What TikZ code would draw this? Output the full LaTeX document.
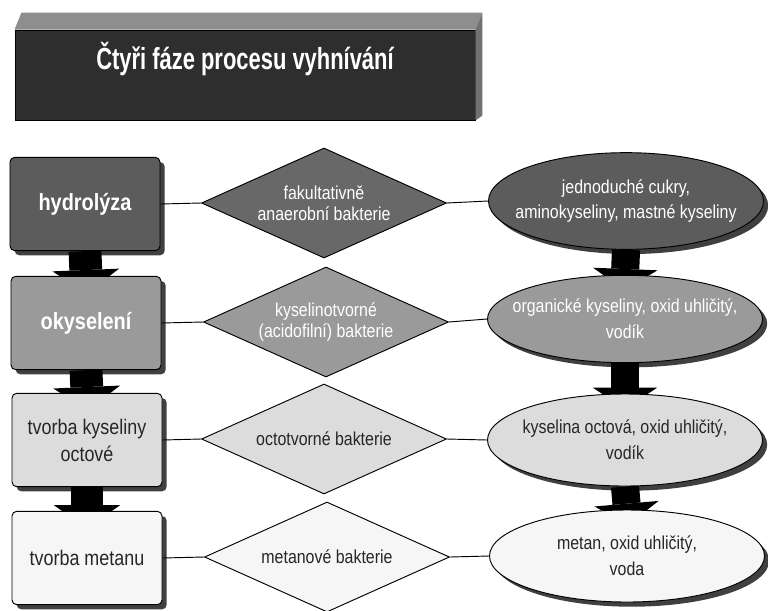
\documentclass[tikz,border=0pt]{standalone}
\usepackage{fontspec}
\setmainfont[FakeStretch=0.85]{Liberation Sans}
\newfontfamily\titlefont[FakeStretch=0.72]{Liberation Sans}
\usetikzlibrary{arrows.meta,positioning,shapes.geometric,shadows,backgrounds}
\definecolor{titlegray}{HTML}{2E2E2E}
\definecolor{bevelgray}{HTML}{8E8E8E}
\definecolor{toneA}{HTML}{5C5C5C}
\definecolor{toneAd}{HTML}{686868}
\definecolor{toneB}{HTML}{9A9A9A}
\definecolor{toneC}{HTML}{DCDCDC}
\definecolor{toneD}{HTML}{F6F6F6}

\begin{document}
\begin{tikzpicture}[
    x=0.03cm, y=-0.03cm,
    shade/.style={drop shadow={shadow xshift=4pt, shadow yshift=-4pt, fill=black, opacity=0.75}},
    phase/.style={rectangle, rounded corners=4pt, draw=black, line width=0.8pt, minimum width=4.5cm, minimum height=2.8cm, align=center, font=\fontsize{18}{23}\selectfont, shade},
    bact/.style={diamond, aspect=2.25, draw=black, line width=0.8pt, inner sep=0pt, minimum width=7.35cm, minimum height=3.3cm, align=center, font=\fontsize{16}{18}\selectfont},
    prod/.style={ellipse, draw=black, line width=0.8pt, inner xsep=-20pt, inner ysep=0pt, minimum width=8.25cm, minimum height=2.76cm, align=center, font=\fontsize{16}{22}\selectfont, shade},
    link/.style={line width=0.8pt},
    flow/.style={draw=black, line width=28pt, -{Triangle[width=57pt, length=20pt, line width=0pt]}, shorten >=-15pt},
    flowr/.style={draw=black, line width=24pt, -{Triangle[width=55pt, length=18pt, line width=0pt]}, shorten >=-13pt}
  ]
    \useasboundingbox (0,0) rectangle (768,610);
    % title block with bevel
    \node[rectangle, draw=black, line width=0.8pt, fill=titlegray, text=white, minimum width=13.8cm, minimum height=2.7cm,
          text height=22pt, text depth=32pt, font=\titlefont\fontsize{26}{30}\bfseries] (title) at (245,75) {Čtyři fáze procesu vyhnívání};
    \fill[bevelgray] (title.north west) -- ++(7,-17) -- ([shift={(7,-17)}]title.north east) -- (title.north east) -- cycle;
    \fill[bevelgray!80!black] (title.north east) -- ++(7,-17) -- ([shift={(7,-5)}]title.south east) -- (title.south east) -- cycle;

    % phases
    \node[phase, fill=toneA, text=white, font=\fontsize{20}{23}\bfseries] (ph1) at (85,204) {hydrolýza};
    \node[phase, fill=toneB, text=white, font=\fontsize{20}{23}\bfseries] (ph2) at (86,323) {okyselení};
    \node[phase, fill=toneC, text=black!85] (ph3) at (87,440) {tvorba kyseliny\\octové};
    \node[phase, fill=toneD, text=black!85] (ph4) at (87,558) {tvorba metanu};

    % bacteria
    \node[bact, fill=toneAd, text=white] (bac1) at (324,203) {fakultativně\\anaerobní bakterie};
    \node[bact, fill=toneB, text=white] (bac2) at (326,322) {kyselinotvorné\\(acidofilní) bakterie};
    \node[bact, fill=toneC, text=black!85] (bac3) at (324,439) {octotvorné bakterie};
    \node[bact, fill=toneD, text=black!85] (bac4) at (327,557) {metanové bakterie};

    % products
    \node[prod, fill=toneA, text=white, minimum height=2.9cm] (prod1) at (626,201) {jednoduché cukry,\\aminokyseliny, mastné kyseliny};
    \node[prod, fill=toneB, text=white, minimum height=2.62cm] (prod2) at (625,319) {organické kyseliny, oxid uhličitý,\\vodík};
    \node[prod, fill=toneC, text=black!85] (prod3) at (625,440) {kyselina octová, oxid uhličitý,\\vodík};
    \node[prod, fill=toneD, text=black!85] (prod4) at (627,556) {metan, oxid uhličitý,\\voda};

    % links
    \foreach \i in {1,...,4} {
      \draw[link] (ph\i.east) -- (bac\i.west);
      \draw[link] (bac\i.east) -- (prod\i.west);
    }

    % block arrows behind the shapes
    \begin{scope}[on background layer]
      \foreach \i/\j in {1/2,2/3,3/4} {
        \draw[flow] (ph\i.south) -- (ph\j.north);
        \draw[flowr] (prod\i.south) -- (prod\j.north);
      }
    \end{scope}
  \end{tikzpicture}
\end{document}
